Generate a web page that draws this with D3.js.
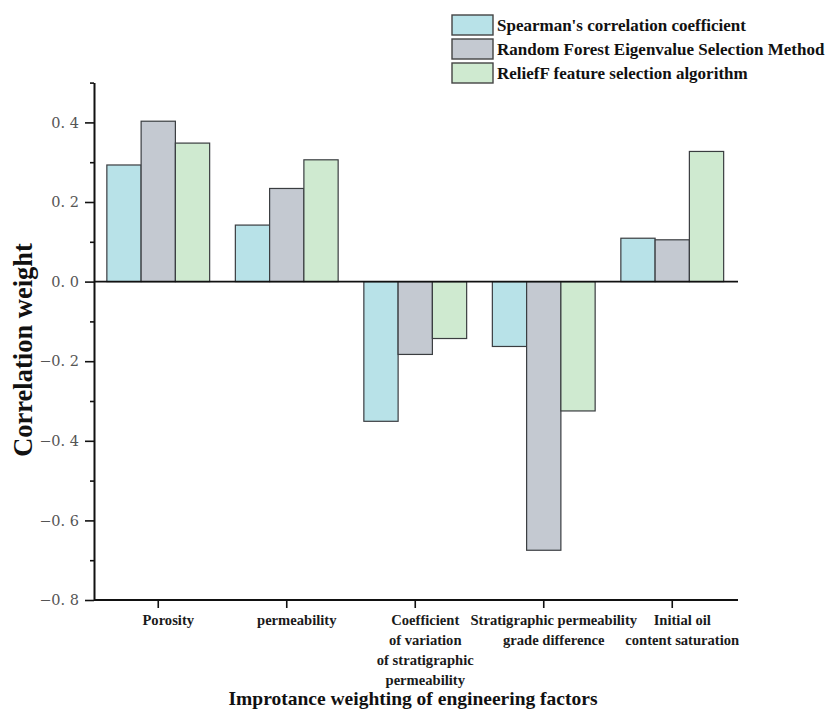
<!DOCTYPE html>
<html>
<head>
<meta charset="utf-8">
<script src="https://cdn.jsdelivr.net/npm/d3@7"></script>
<style>
  html, body { margin: 0; padding: 0; background: #fff; }
  svg { display: block; }
</style>
</head>
<body>
<svg id="chart" width="829" height="710"></svg>
<script>
// ---- data ----
const categories = [
  "Porosity",
  "permeability",
  "Coefficient of variation of stratigraphic permeability",
  "Stratigraphic permeability grade difference",
  "Initial oil content saturation"
];
const categoryLines = [
  ["Porosity"],
  ["permeability"],
  ["Coefficient", "of variation", "of stratigraphic", "permeability"],
  ["Stratigraphic permeability", "grade difference"],
  ["Initial oil", "content saturation"]
];
const seriesNames = [
  "Spearman's correlation coefficient",
  "Random Forest Eigenvalue Selection Method",
  "ReliefF feature selection algorithm"
];
const spearman     = [0.293, 0.142, -0.351, -0.163, 0.109];
const randomForest = [0.403, 0.234, -0.183, -0.675, 0.105];
const reliefF      = [0.348, 0.306, -0.143, -0.325, 0.327];
const seriesValues = [spearman, randomForest, reliefF];
const yMajorTicks = [-0.8, -0.6, -0.4, -0.2, 0.0, 0.2, 0.4];
const yMinorTicks = [-0.7, -0.5, -0.3, -0.1, 0.1, 0.3, 0.5];
const colors = ["#b8e2e8", "#c4c9d1", "#cfead0"];

// ---- layout ----
const svg = d3.select("#chart");
const serif = "'Liberation Serif', 'DejaVu Serif', serif";
const x0 = 94, x1 = 736.5, xEnd = 738;
const y = d3.scaleLinear().domain([-0.8, 0.5]).range([600, 82.6]);
const x = d3.scaleBand().domain(categories).range([x0, x1]).paddingInner(0).paddingOuter(0);
const groupW = x.bandwidth() * 0.8;
const xs = d3.scaleBand().domain(seriesNames).range([0, groupW]);

// bars
seriesNames.forEach((s, si) => {
  svg.append("g").selectAll("rect")
    .data(categories.map((c, i) => ({ c, v: seriesValues[si][i] })))
    .join("rect")
    .attr("x", d => x(d.c) + x.bandwidth() * 0.1 + xs(s))
    .attr("width", xs.bandwidth())
    .attr("y", d => y(Math.max(0, d.v)))
    .attr("height", d => Math.abs(y(d.v) - y(0)))
    .attr("fill", colors[si])
    .attr("stroke", "#3a3d40")
    .attr("stroke-width", 1.2);
});

// zero line
svg.append("line")
  .attr("x1", x0).attr("x2", xEnd)
  .attr("y1", y(0)).attr("y2", y(0))
  .attr("stroke", "#111").attr("stroke-width", 1.6);

// y axis minor ticks
const yMinor = svg.append("g").attr("transform", `translate(${x0},0)`)
  .call(d3.axisLeft(y).tickValues(yMinorTicks).tickSize(4).tickFormat(""));
yMinor.select(".domain").remove();
yMinor.selectAll("line").attr("stroke", "#111").attr("stroke-width", 1.6);

// y axis major
const fmt = v => (v < 0 ? "\u2212" : "") + Math.abs(v).toFixed(1).replace(".", ". ");
const yAx = svg.append("g").attr("transform", `translate(${x0},0)`)
  .call(d3.axisLeft(y).tickValues(yMajorTicks).tickSize(9).tickSizeOuter(0).tickFormat(fmt).tickPadding(6));
yAx.select(".domain").attr("stroke", "#111").attr("stroke-width", 2);
yAx.selectAll(".tick line").attr("stroke", "#111").attr("stroke-width", 1.6);
yAx.selectAll("text")
  .attr("font-family", "'DejaVu Serif', serif")
  .attr("font-size", 14.5)
  .attr("fill", "#555");

// x axis
const xAx = svg.append("g").attr("transform", `translate(0,${y(-0.8)})`)
  .call(d3.axisBottom(x).tickSize(8).tickSizeOuter(0).tickFormat(""));
xAx.select(".domain").attr("d", `M${x0},0H${xEnd}`).attr("stroke", "#111").attr("stroke-width", 2);
xAx.selectAll(".tick line").attr("stroke", "#111").attr("stroke-width", 1.6);

// category labels
categories.forEach((c, i) => {
  const t = svg.append("text")
    .attr("font-family", serif)
    .attr("font-weight", "bold")
    .attr("font-size", 14.6)
    .attr("fill", "#1a1a1a")
    .attr("text-anchor", "middle");
  categoryLines[i].forEach((ln, k) => {
    t.append("tspan")
      .attr("x", x(c) + x.bandwidth() / 2 + 10)
      .attr("y", 625 + k * 20)
      .text(ln);
  });
});

// axis titles
svg.append("text")
  .attr("x", 413).attr("y", 705)
  .attr("text-anchor", "middle")
  .attr("font-family", serif)
  .attr("font-weight", "bold")
  .attr("font-size", 19.5)
  .attr("fill", "#111")
  .text("Improtance weighting of engineering factors");

svg.append("text")
  .attr("transform", "translate(32,350) rotate(-90)")
  .attr("text-anchor", "middle")
  .attr("font-family", serif)
  .attr("font-weight", "bold")
  .attr("font-size", 26.5)
  .attr("fill", "#111")
  .text("Correlation weight");

// legend
const lg = svg.append("g");
seriesNames.forEach((s, i) => {
  lg.append("rect")
    .attr("x", 452).attr("y", 15 + i * 24)
    .attr("width", 41).attr("height", 20)
    .attr("fill", colors[i])
    .attr("stroke", "#444").attr("stroke-width", 1.4);
  lg.append("text")
    .attr("x", 497).attr("y", 30.5 + i * 24)
    .attr("font-family", serif)
    .attr("font-weight", "bold")
    .attr("font-size", 17)
    .attr("fill", "#111")
    .text(s);
});
</script>
</body>
</html>
